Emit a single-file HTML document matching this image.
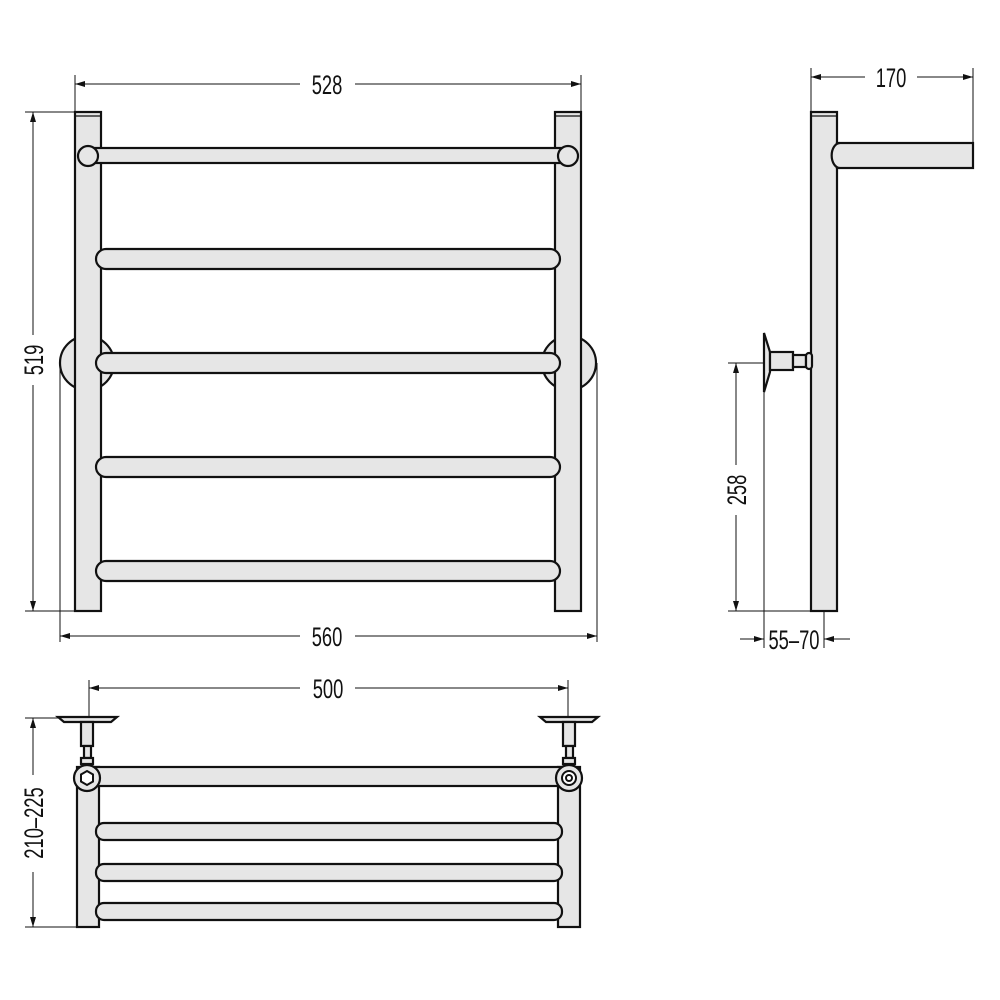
<!DOCTYPE html>
<html><head><meta charset="utf-8"><style>html,body{margin:0;padding:0;background:#fff}svg{display:block}
text{font-family:"Liberation Sans",sans-serif;font-size:27px;fill:#111}</style></head>
<body>
<svg width="1000" height="1000" viewBox="0 0 1000 1000" xmlns="http://www.w3.org/2000/svg">
<defs>
<marker id="a" viewBox="0 0 10 6" refX="10" refY="3" markerWidth="10" markerHeight="6" orient="auto-start-reverse" markerUnits="userSpaceOnUse"><path d="M0,0 L10,3 L0,6z" fill="#111"/></marker>
</defs>
<g stroke="#111" stroke-width="1" fill="none">
<line x1="75" y1="75" x2="75" y2="112"/><line x1="581" y1="75" x2="581" y2="112"/>
<line x1="75" y1="84" x2="300" y2="84" marker-start="url(#a)"/><line x1="355" y1="84" x2="581" y2="84" marker-end="url(#a)"/>
<line x1="25" y1="112" x2="75" y2="112"/><line x1="25" y1="611" x2="75" y2="611"/>
<line x1="33" y1="112" x2="33" y2="335" marker-start="url(#a)"/><line x1="33" y1="385" x2="33" y2="611" marker-end="url(#a)"/>
<line x1="60" y1="363" x2="60" y2="642"/><line x1="597" y1="363" x2="597" y2="642"/>
<line x1="60" y1="636" x2="300" y2="636" marker-start="url(#a)"/><line x1="355" y1="636" x2="597" y2="636" marker-end="url(#a)"/>
<line x1="811" y1="68" x2="811" y2="112"/><line x1="973" y1="68" x2="973" y2="143"/>
<line x1="811" y1="77" x2="865" y2="77" marker-start="url(#a)"/><line x1="917" y1="77" x2="973" y2="77" marker-end="url(#a)"/>
<line x1="728" y1="363" x2="764" y2="363"/><line x1="728" y1="611" x2="811" y2="611"/>
<line x1="736" y1="363" x2="736" y2="465" marker-start="url(#a)"/><line x1="736" y1="515" x2="736" y2="611" marker-end="url(#a)"/>
<line x1="764" y1="392" x2="764" y2="648"/><line x1="824" y1="611" x2="824" y2="648"/>
<line x1="740" y1="639" x2="764" y2="639" marker-end="url(#a)"/><line x1="850" y1="639" x2="824" y2="639" marker-end="url(#a)"/>
<line x1="89" y1="680" x2="89" y2="716"/><line x1="568" y1="680" x2="568" y2="716"/>
<line x1="89" y1="688" x2="300" y2="688" marker-start="url(#a)"/><line x1="355" y1="688" x2="568" y2="688" marker-end="url(#a)"/>
<line x1="25" y1="718" x2="62" y2="718"/><line x1="25" y1="927" x2="77" y2="927"/>
<line x1="33" y1="718" x2="33" y2="775" marker-start="url(#a)"/><line x1="33" y1="872" x2="33" y2="927" marker-end="url(#a)"/>
</g>
<text transform="translate(327,94) scale(0.68,1)" text-anchor="middle">528</text>
<text transform="translate(327,646) scale(0.68,1)" text-anchor="middle">560</text>
<text transform="translate(891,87) scale(0.68,1)" text-anchor="middle">170</text>
<text transform="translate(794,649) scale(0.68,1)" text-anchor="middle">55–70</text>
<text transform="translate(328,698) scale(0.68,1)" text-anchor="middle">500</text>
<text transform="translate(43,360) rotate(-90) scale(0.68,1)" text-anchor="middle">519</text>
<text transform="translate(746,490) rotate(-90) scale(0.68,1)" text-anchor="middle">258</text>
<text transform="translate(43,823) rotate(-90) scale(0.68,1)" text-anchor="middle">210–225</text>

<g stroke="#111" stroke-width="2.2" fill="#e6e6e6">
<circle cx="87" cy="363" r="27"/><circle cx="569" cy="363" r="27"/>
<rect x="75" y="112" width="26" height="499"/><rect x="555" y="112" width="26" height="499"/>
<line x1="75" y1="116" x2="101" y2="116" stroke-width="1.2"/><line x1="555" y1="116" x2="581" y2="116" stroke-width="1.2"/>
<rect x="88" y="148" width="480" height="15"/>
<circle cx="88" cy="156" r="10"/><circle cx="568" cy="156" r="10"/>
<rect x="96" y="249" width="464" height="20" rx="10"/>
<rect x="96" y="353" width="464" height="20" rx="10"/>
<rect x="96" y="457" width="464" height="20" rx="10"/>
<rect x="96" y="561" width="464" height="20" rx="10"/>
<rect x="811" y="112" width="26" height="499"/>
<line x1="811" y1="116" x2="837" y2="116" stroke-width="1.2"/>
<rect x="837" y="143" width="136" height="25"/>
<path d="M840,143 a8,12 0 0 0 0,25" />
<path d="M764,333 L770,352 L770,372 L764,392 Z"/>
<rect x="770" y="352" width="23" height="18"/>
<rect x="793" y="355" width="13" height="12"/>
<rect x="806" y="353" width="6" height="16" rx="3"/>
<rect x="77" y="767" width="22" height="160"/><rect x="558" y="767" width="22" height="160"/>
<rect x="88" y="767" width="481" height="19"/>
<rect x="96" y="823" width="466" height="17" rx="8"/>
<rect x="96" y="864" width="466" height="17" rx="8"/>
<rect x="96" y="903" width="466" height="17" rx="8"/>
<path d="M58,717 L117,717 L111,722 L64,722 Z"/>
<rect x="81" y="722" width="12" height="24"/>
<rect x="84" y="746" width="7" height="12"/>
<rect x="81" y="758" width="12" height="6"/>
<circle cx="87" cy="778" r="13"/>
<path d="M540,717 L598,717 L592,722 L546,722 Z"/>
<rect x="563" y="722" width="12" height="24"/>
<rect x="566" y="746" width="7" height="12"/>
<rect x="563" y="758" width="12" height="6"/>
<circle cx="569" cy="778" r="13"/>
</g>
<g stroke="#111" stroke-width="2" fill="#fff">
<polygon points="87,771 93,774.5 93,781.5 87,785 81,781.5 81,774.5"/>
<circle cx="569" cy="778" r="7"/><circle cx="569" cy="778" r="3"/>
</g>
</svg>
</body></html>
